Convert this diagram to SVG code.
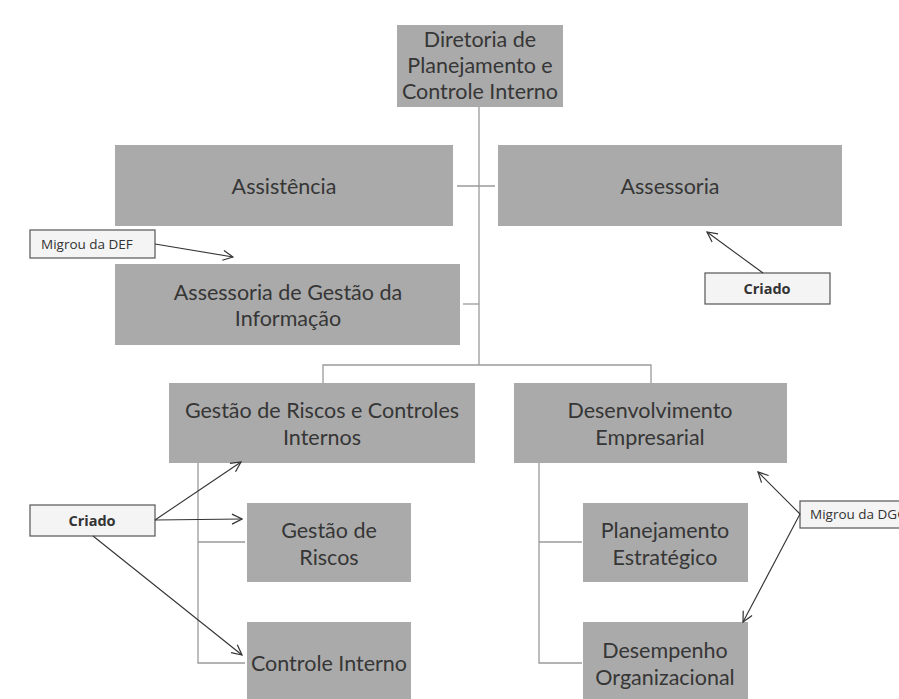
<svg xmlns="http://www.w3.org/2000/svg" width="899" height="699" viewBox="0 0 899 699">
  <style>
    .box { fill: #aaaaaa; }
    .lbl { font-family: Lato, "Open Sans", "Liberation Sans", sans-serif; font-size: 21.5px; fill: #363636; text-anchor: middle; }
    .tree { stroke: #9a9a9a; stroke-width: 1.3; fill: none; }
    .note { fill: #f4f4f4; stroke: #555; stroke-width: 1.2; }
    .ntxt { font-family: "Open Sans", "Liberation Sans", sans-serif; font-size: 13.5px; fill: #333; }
    .nbold { font-family: "Open Sans", "Liberation Sans", sans-serif; font-size: 14.5px; font-weight: bold; fill: #333; text-anchor: middle; }
    .arr { stroke: #333; stroke-width: 1.1; fill: none; marker-end: url(#head); }
  </style>
  <defs>
    <marker id="head" viewBox="0 0 12 12" refX="11" refY="6" markerWidth="12" markerHeight="12" markerUnits="userSpaceOnUse" orient="auto">
      <path d="M1,1 L11,6 L1,11" fill="none" stroke="#333" stroke-width="1.2"/>
    </marker>
  </defs>
  <rect width="899" height="699" fill="#ffffff"/>

  <!-- tree connectors -->
  <g id="connectors" class="tree">
    <path d="M479,107 V365"/>
    <path d="M457,186 H495"/>
    <path d="M463,304 H479"/>
    <path d="M323,383 V365 H651 V383"/>
    <path d="M198,463 V663 H245 M198,542 H245"/>
    <path d="M539,463 V663 H582 M539,542 H582"/>
  </g>

  <!-- org units -->
  <g id="n-diretoria">
    <rect class="box" x="397" y="25" width="166" height="82"/>
    <text class="lbl" x="480" y="47">Diretoria de</text>
    <text class="lbl" x="480" y="73">Planejamento e</text>
    <text class="lbl" x="480" y="99">Controle Interno</text>
  </g>
  <g id="n-assistencia">
    <rect class="box" x="115" y="145" width="338" height="81"/>
    <text class="lbl" x="284" y="194">Assistência</text>
  </g>
  <g id="n-assessoria">
    <rect class="box" x="498" y="145" width="344" height="81"/>
    <text class="lbl" x="670" y="194">Assessoria</text>
  </g>
  <g id="n-gestao-informacao">
    <rect class="box" x="115" y="264" width="345" height="81"/>
    <text class="lbl" x="288" y="300">Assessoria de Gestão da</text>
    <text class="lbl" x="288" y="326">Informação</text>
  </g>
  <g id="n-riscos-controles">
    <rect class="box" x="169" y="383" width="306" height="80"/>
    <text class="lbl" x="322" y="418">Gestão de Riscos e Controles</text>
    <text class="lbl" x="322" y="445">Internos</text>
  </g>
  <g id="n-desenvolvimento">
    <rect class="box" x="514" y="383" width="273" height="80"/>
    <text class="lbl" x="650" y="418">Desenvolvimento</text>
    <text class="lbl" x="650" y="445">Empresarial</text>
  </g>
  <g id="n-gestao-riscos">
    <rect class="box" x="247" y="503" width="164" height="79"/>
    <text class="lbl" x="329" y="538">Gestão de</text>
    <text class="lbl" x="329" y="565">Riscos</text>
  </g>
  <g id="n-controle-interno">
    <rect class="box" x="247" y="622" width="164" height="82"/>
    <text class="lbl" x="329" y="671">Controle Interno</text>
  </g>
  <g id="n-planejamento">
    <rect class="box" x="583" y="503" width="165" height="79"/>
    <text class="lbl" x="665" y="538">Planejamento</text>
    <text class="lbl" x="665" y="565">Estratégico</text>
  </g>
  <g id="n-desempenho">
    <rect class="box" x="583" y="622" width="165" height="82"/>
    <text class="lbl" x="665" y="658">Desempenho</text>
    <text class="lbl" x="665" y="685">Organizacional</text>
  </g>

  <!-- annotation labels -->
  <g id="note-def">
    <rect class="note" x="30" y="230" width="125" height="28"/>
    <text class="ntxt" x="41" y="249">Migrou da DEF</text>
  </g>
  <g id="note-criado-right">
    <rect class="note" x="705" y="273" width="125" height="31"/>
    <text class="nbold" x="767" y="294">Criado</text>
  </g>
  <g id="note-criado-left">
    <rect class="note" x="30" y="505" width="125" height="31"/>
    <text class="nbold" x="92" y="526">Criado</text>
  </g>
  <g id="note-dgo">
    <rect class="note" x="800" y="501" width="120" height="27"/>
    <text class="ntxt" x="810" y="519">Migrou da DGO</text>
  </g>

  <!-- annotation arrows -->
  <g id="note-arrows" class="arr">
    <path d="M155,244 L233,257"/>
    <path d="M763,273 L707,232"/>
    <path d="M155,520 L241,462"/>
    <path d="M155,520 L242,519"/>
    <path d="M93,536 L242,655"/>
    <path d="M800,514 L758,472"/>
    <path d="M800,514 L743,622"/>
  </g>
</svg>
